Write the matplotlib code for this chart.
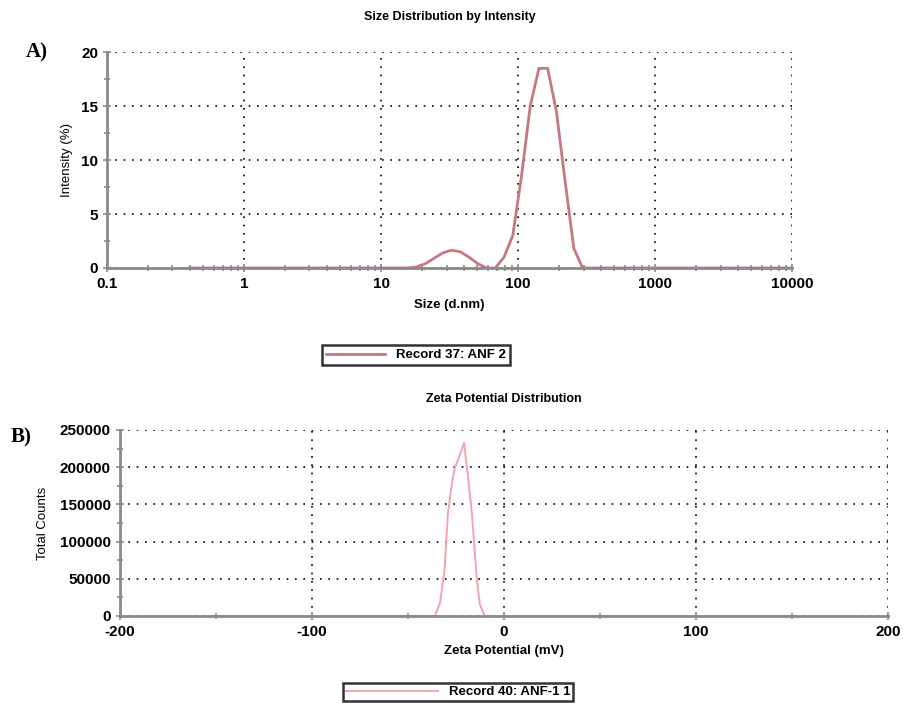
import numpy as np
import matplotlib
matplotlib.use("Agg")
import matplotlib.pyplot as plt
from matplotlib.ticker import FixedLocator, FuncFormatter, MultipleLocator

plt.rcParams['font.family'] = ['Liberation Sans', 'DejaVu Sans']
plt.rcParams['axes.unicode_minus'] = False

# Panel A - size distribution by intensity
size_nm = [0.4, 15.69, 18.17, 21.04, 24.36, 28.21, 32.67, 37.84, 43.82, 50.75,
           58.77, 68.06, 78.82, 91.28, 105.7, 122.4, 141.8, 164.2, 190.1, 220.2,
           255.0, 295.3, 10000]
intensity = [0, 0, 0.1, 0.4, 0.9, 1.4, 1.65, 1.5, 1.0, 0.4,
             0, 0, 1.0, 3.0, 8.5, 15.0, 18.5, 18.5, 14.5, 8.0,
             1.8, 0, 0]
label_a = 'Record 37: ANF 2'

# Panel B - zeta potential distribution
zeta_mv = [-150, -36, -33.3, -31, -29.2, -27, -25.5, -24.5, -20.8, -19.3,
           -16.7, -14.1, -12.5, -10, 150]
counts = [0, 0, 17500, 60000, 138000, 180000, 200000, 206000, 232500, 200000,
          138000, 48000, 15000, 0, 0]
label_b = 'Record 40: ANF-1 1'

fig = plt.figure(figsize=(9.04, 7.03), dpi=100)

def style(ax):
    for s in ['top', 'right']:
        ax.spines[s].set_visible(False)
    for s in ['left', 'bottom']:
        ax.spines[s].set_color('#8a8a8a')
        ax.spines[s].set_linewidth(2)
    ax.tick_params(which='both', direction='inout', color='#8a8a8a', width=1.2)
    ax.tick_params(which='major', length=6, labelsize=11)
    ax.tick_params(which='minor', length=4)
    ax.grid(True, which='major', color='black', linestyle=(0, (1, 4)), linewidth=1.2)
    for lab in ax.get_xticklabels() + ax.get_yticklabels():
        lab.set_fontweight('bold')

# ---- A ----
axA = fig.add_axes([0.1184, 0.6188, 0.758, 0.307])
axA.plot(size_nm, intensity, color='#c47880', lw=2.0, label=label_a)
axA.set_xscale('log')
axA.set_xlim(0.1, 10000)
axA.set_ylim(0, 20)
axA.xaxis.set_major_locator(FixedLocator([0.1, 1, 10, 100, 1000, 10000]))
axA.xaxis.set_major_formatter(FuncFormatter(lambda v, p: '%g' % v))
axA.yaxis.set_major_locator(MultipleLocator(5))
axA.yaxis.set_minor_locator(MultipleLocator(2.5))
style(axA)
axA.set_title('Size Distribution by Intensity', fontsize=9, fontweight='bold', pad=23)
axA.set_xlabel('Size (d.nm)', fontsize=9.5, fontweight='bold', labelpad=6)
axA.set_ylabel('Intensity (%)', fontsize=9.5, labelpad=6)
fig.text(0.028, 0.918, 'A)', family='Liberation Serif', fontsize=15, fontweight='bold')
leg = axA.legend(loc='center', bbox_to_anchor=(416 / 904, 1 - 355 / 703),
                 bbox_transform=fig.transFigure, fancybox=False, frameon=True,
                 edgecolor='black', handlelength=4.5, fontsize=9.5, borderpad=0.3)
leg.get_frame().set_linewidth(1.8)
for t in leg.get_texts():
    t.set_fontweight('bold')

# ---- B ----
axB = fig.add_axes([0.1327, 0.1238, 0.8496, 0.2646])
axB.plot(zeta_mv, counts, color='#f2a3ab', lw=1.4, label=label_b)
axB.set_xlim(-200, 200)
axB.set_ylim(0, 250000)
axB.xaxis.set_major_locator(MultipleLocator(100))
axB.xaxis.set_minor_locator(MultipleLocator(50))
axB.yaxis.set_major_locator(MultipleLocator(50000))
axB.yaxis.set_minor_locator(MultipleLocator(25000))
style(axB)
axB.set_title('Zeta Potential Distribution', fontsize=9, fontweight='bold', pad=20)
axB.set_xlabel('Zeta Potential (mV)', fontsize=9.5, fontweight='bold', labelpad=4)
axB.set_ylabel('Total Counts', fontsize=9.5, labelpad=8)
fig.text(0.012, 0.37, 'B)', family='Liberation Serif', fontsize=15, fontweight='bold')
leg = axB.legend(loc='center', bbox_to_anchor=(458 / 904, 1 - 692 / 703),
                 bbox_transform=fig.transFigure, fancybox=False, frameon=True,
                 edgecolor='black', handlelength=7, fontsize=9.5, borderpad=0.2)
leg.get_frame().set_linewidth(1.8)
for t in leg.get_texts():
    t.set_fontweight('bold')

fig.savefig('out.png', dpi=100)
